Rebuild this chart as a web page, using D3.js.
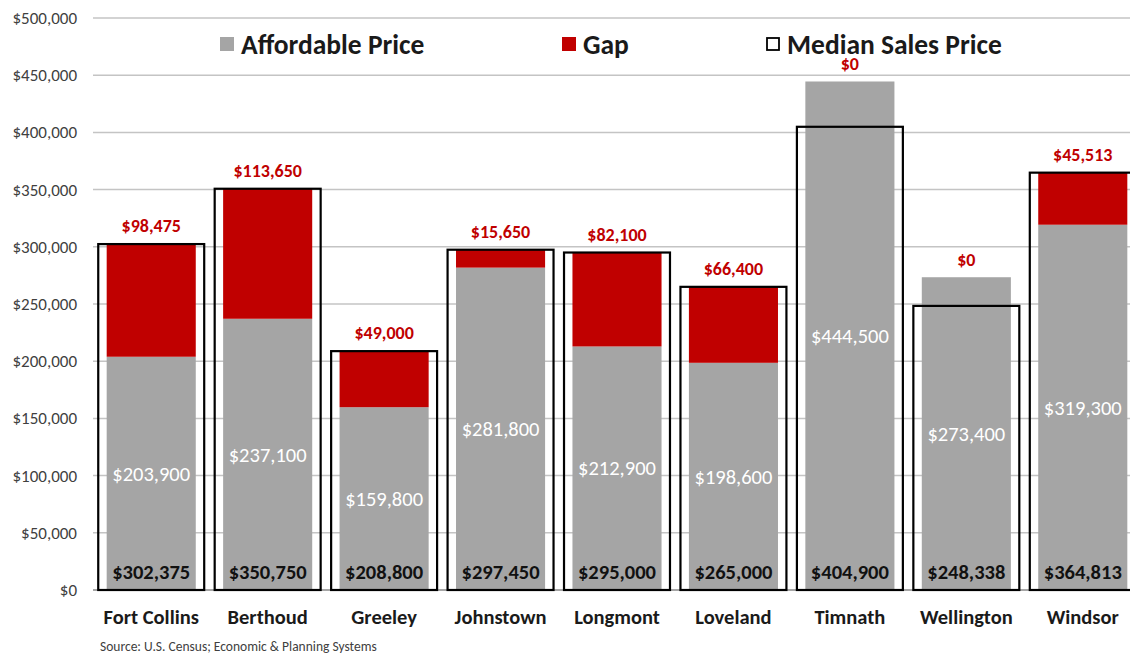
<!DOCTYPE html>
<html>
<head>
<meta charset="utf-8">
<script src="https://cdn.jsdelivr.net/npm/d3@7"></script>
<style>
  html, body { margin: 0; padding: 0; background: #fff; }
  svg { display: block; font-family: Carlito, Lato, "Open Sans", sans-serif; }
</style>
</head>
<body>
<svg id="chart" width="1130" height="654"></svg>
<script>
// Housing affordability by community
const cities = ["Fort Collins", "Berthoud", "Greeley", "Johnstown", "Longmont", "Loveland", "Timnath", "Wellington", "Windsor"];
const affordablePrice = [203900, 237100, 159800, 281800, 212900, 198600, 444500, 273400, 319300];
const medianSalesPrice = [302375, 350750, 208800, 297450, 295000, 265000, 404900, 248338, 364813];
const gap = [98475, 113650, 49000, 15650, 82100, 66400, 0, 0, 45513];
const yTicks = [0, 50000, 100000, 150000, 200000, 250000, 300000, 350000, 400000, 450000, 500000];
const legendLabels = ["Affordable Price", "Gap", "Median Sales Price"];
const sourceNote = "Source: U.S. Census; Economic & Planning Systems";

const GRAY = "#a5a5a5", RED = "#c00000";
const svg = d3.select("#chart");
const money = d3.format("$,");

const x = d3.scaleBand().domain(cities).range([93, 1141]).padding(0);
const y = d3.scaleLinear().domain([0, 500000]).range([590, 18]);
const step = x.step();
const boxW = step * 0.91, barW = step * 0.765;

const rows = cities.map((c, i) => ({
  city: c, afford: affordablePrice[i], median: medianSalesPrice[i], gap: gap[i]
}));

// gridlines
svg.append("g").selectAll("line").data(yTicks).join("line")
  .attr("x1", 93).attr("x2", 1130)
  .attr("y1", d => y(d)).attr("y2", d => y(d))
  .attr("stroke", d => d === 0 ? "#a6a6a6" : "#c4c4c4")
  .attr("stroke-width", d => d === 0 ? 2 : 1.5);

// y axis labels
svg.append("g").selectAll("text").data(yTicks).join("text")
  .attr("x", 77).attr("y", d => y(d)).attr("dy", "0.35em")
  .attr("text-anchor", "end").attr("font-size", 17).attr("fill", "#404040")
  .text(d => money(d));

// affordable price bars
svg.append("g").selectAll("rect").data(rows).join("rect")
  .attr("x", d => x(d.city) + (step - barW) / 2).attr("width", barW)
  .attr("y", d => y(d.afford)).attr("height", d => y(0) - y(d.afford))
  .attr("fill", GRAY);

// gap bars stacked on top
svg.append("g").selectAll("rect").data(rows.filter(d => d.gap > 0)).join("rect")
  .attr("x", d => x(d.city) + (step - barW) / 2).attr("width", barW)
  .attr("y", d => y(d.afford + d.gap)).attr("height", d => y(d.afford) - y(d.afford + d.gap))
  .attr("fill", RED);

// median sales price outline boxes
svg.append("g").selectAll("rect").data(rows).join("rect")
  .attr("x", d => x(d.city) + (step - boxW) / 2).attr("width", boxW)
  .attr("y", d => y(d.median)).attr("height", d => y(0) - y(d.median))
  .attr("fill", "none").attr("stroke", "#000").attr("stroke-width", 2.2);

// gap value labels
svg.append("g").selectAll("text").data(rows).join("text")
  .attr("x", d => x(d.city) + step / 2)
  .attr("y", d => y(Math.max(d.afford + d.gap, d.median)) - 18).attr("dy", "0.35em")
  .attr("text-anchor", "middle").attr("font-size", 18).attr("font-weight", "bold")
  .attr("fill", RED).text(d => money(d.gap));

// affordable price labels
svg.append("g").selectAll("text").data(rows).join("text")
  .attr("x", d => x(d.city) + step / 2)
  .attr("y", d => (y(d.afford) + y(0)) / 2).attr("dy", "0.35em")
  .attr("text-anchor", "middle").attr("font-size", 20.5)
  .attr("fill", "#fff").text(d => money(d.afford));

// median price labels
svg.append("g").selectAll("text").data(rows).join("text")
  .attr("x", d => x(d.city) + step / 2)
  .attr("y", 572).attr("dy", "0.35em")
  .attr("text-anchor", "middle").attr("font-size", 20.5).attr("font-weight", "bold")
  .attr("fill", "#111").text(d => money(d.median));

// category labels
svg.append("g").selectAll("text").data(cities).join("text")
  .attr("x", d => x(d) + step / 2).attr("y", 617).attr("dy", "0.35em")
  .attr("text-anchor", "middle").attr("font-size", 20.5).attr("font-weight", "bold")
  .attr("fill", "#1a1a1a").text(d => d);

// legend
const legendX = [220, 562, 766];
const lg = svg.append("g");
legendLabels.forEach((lab, i) => {
  const g = lg.append("g").attr("transform", `translate(${legendX[i]},44)`);
  if (i === 2) {
    g.append("rect").attr("x", 1).attr("y", -6).attr("width", 12).attr("height", 12)
      .attr("fill", "#fff").attr("stroke", "#000").attr("stroke-width", 1.8);
  } else {
    g.append("rect").attr("x", 0).attr("y", -7).attr("width", 14).attr("height", 14)
      .attr("fill", i === 0 ? GRAY : RED);
  }
  g.append("text").attr("x", 21).attr("y", 0).attr("dy", "0.35em")
    .attr("font-size", 27.5).attr("font-weight", "bold").attr("fill", "#1a1a1a").text(lab);
});

// source note
svg.append("text").attr("x", 100).attr("y", 646).attr("dy", "0.35em")
  .attr("font-size", 13.5).attr("fill", "#404040").text(sourceNote);
</script>
</body>
</html>
